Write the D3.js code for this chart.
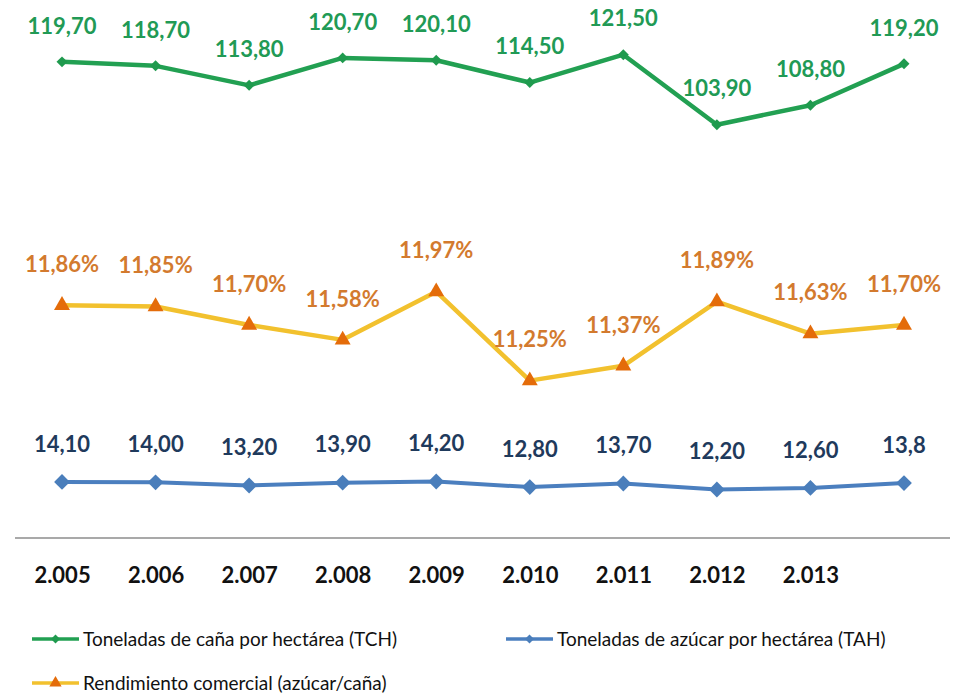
<!DOCTYPE html>
<meta charset="utf-8">
<style>
body {
  margin: 0;
  background: #fff;
  font-family: Lato, "Open Sans", sans-serif;
}
.val {
  font-size: 22px;
  font-weight: bold;
  text-anchor: middle;
}
.xaxis text {
  font-family: Lato, sans-serif;
  font-size: 22px;
  font-weight: bold;
  fill: #111;
}
.legend text {
  font-size: 19px;
  fill: #111;
}
</style>
<body>
<script src="https://d3js.org/d3.v7.min.js"></script>
<script>

var width = 958,
    height = 696;

var years = ["2.005", "2.006", "2.007", "2.008", "2.009", "2.010", "2.011", "2.012", "2.013", ""];

var tch = [119.7, 118.7, 113.8, 120.7, 120.1, 114.5, 121.5, 103.9, 108.8, 119.2];
var tchLabels = ["119,70", "118,70", "113,80", "120,70", "120,10", "114,50", "121,50", "103,90", "108,80", "119,20"];

var rend = [11.86, 11.85, 11.70, 11.58, 11.97, 11.25, 11.37, 11.89, 11.63, 11.70];
var rendLabels = ["11,86%", "11,85%", "11,70%", "11,58%", "11,97%", "11,25%", "11,37%", "11,89%", "11,63%", "11,70%"];

var tah = [14.1, 14.0, 13.2, 13.9, 14.2, 12.8, 13.7, 12.2, 12.6, 13.8];
var tahLabels = ["14,10", "14,00", "13,20", "13,90", "14,20", "12,80", "13,70", "12,20", "12,60", "13,8"];

var svg = d3.select("body").append("svg")
    .attr("width", width)
    .attr("height", height);

var x = d3.scalePoint()
    .domain(d3.range(years.length))
    .range([62, 904]);

// primary axis (TCH and TAH), secondary axis (rendimiento, %)
var y1 = d3.scaleLinear().domain([0, 135]).range([538, 1]);
var y2 = d3.scaleLinear().domain([10, 14]).range([535, 41]);

var series = [
  { values: tch, labels: tchLabels, y: y1, line: "#22a052", width: 4.5, marker: "diamond", mfill: "#1f9a4e", msize: 60, label: "#219a55", dy: -36 },
  { values: rend, labels: rendLabels, y: y2, line: "#f2c12e", width: 4.5, marker: "triangle", mfill: "#e46c0a", msize: 110, label: "#d37a2e", dy: -41 },
  { values: tah, labels: tahLabels, y: y1, line: "#4b7fbf", width: 4, marker: "diamond", mfill: "#4a7ebb", msize: 125, label: "#1f3a5c", dy: -38 }
];

// diamonds are squares turned by 45 degrees
function markerPath(type, size) {
  return d3.symbol().type(type == "diamond" ? d3.symbolSquare : d3.symbolTriangle).size(size)();
}
function markerRotate(type) {
  return type == "diamond" ? " rotate(45)" : "";
}

// x axis
var xAxis = svg.append("g")
    .attr("class", "xaxis")
    .attr("transform", "translate(0,538)")
    .call(d3.axisBottom(x).tickSize(0).tickPadding(29).tickFormat(function(i) { return years[i]; }));
xAxis.select(".domain").remove();
svg.append("line")
    .attr("x1", 15).attr("x2", 950)
    .attr("y1", 538).attr("y2", 538)
    .attr("stroke", "#8c8c8c")
    .attr("stroke-width", 1.5);

series.forEach(function(s) {
  var line = d3.line()
      .x(function(d, i) { return x(i); })
      .y(function(d) { return s.y(d); });

  svg.append("path")
      .datum(s.values)
      .attr("fill", "none")
      .attr("stroke", s.line)
      .attr("stroke-width", s.width)
      .attr("stroke-linejoin", "round")
      .attr("d", line);

  svg.append("g").selectAll("path")
      .data(s.values)
    .enter().append("path")
      .attr("d", markerPath(s.marker, s.msize))
      .attr("fill", s.mfill)
      .attr("transform", function(d, i) { return "translate(" + x(i) + "," + s.y(d) + ")" + markerRotate(s.marker); });

  svg.append("g").selectAll("text")
      .data(s.values)
    .enter().append("text")
      .attr("class", "val")
      .attr("fill", s.label)
      .attr("x", function(d, i) { return x(i); })
      .attr("y", function(d) { return s.y(d) + s.dy; })
      .attr("dy", "0.35em")
      .text(function(d, i) { return s.labels[i]; });
});

// legend
var legendItems = [
  { name: "Toneladas de caña por hectárea (TCH)", s: series[0], x: 32, y: 639 },
  { name: "Toneladas de azúcar por hectárea (TAH)", s: series[2], x: 506, y: 639 },
  { name: "Rendimiento comercial (azúcar/caña)", s: series[1], x: 32, y: 683 }
];

var legend = svg.append("g").attr("class", "legend")
  .selectAll("g")
    .data(legendItems)
  .enter().append("g")
    .attr("transform", function(d) { return "translate(" + d.x + "," + d.y + ")"; });

legend.append("line")
    .attr("x1", 0).attr("x2", 47)
    .attr("stroke", function(d) { return d.s.line; })
    .attr("stroke-width", 3.5);

legend.append("path")
    .attr("transform", function(d) { return "translate(23.5,0)" + markerRotate(d.s.marker); })
    .attr("d", function(d) { return markerPath(d.s.marker, d.s.marker == "diamond" ? 40 : 65); })
    .attr("fill", function(d) { return d.s.mfill; });

legend.append("text")
    .attr("x", 51)
    .attr("dy", "0.35em")
    .text(function(d) { return d.name; });

</script>
